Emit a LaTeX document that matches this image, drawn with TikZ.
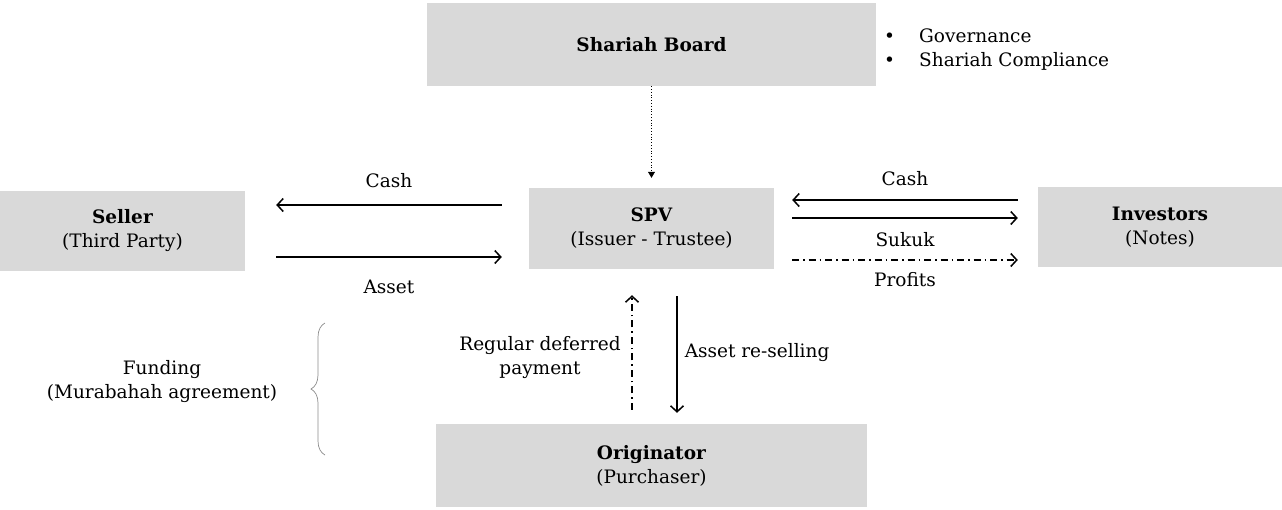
\documentclass[tikz,border=0pt]{standalone}
\usepackage{fontspec}
\setmainfont{DejaVu Serif}
\usetikzlibrary{arrows.meta,decorations.pathreplacing}
\definecolor{boxgray}{HTML}{D9D9D9}
\definecolor{bracegray}{HTML}{8C8C8C}
\tikzset{
  every node/.style={font=\fontsize{18.5}{24}\selectfont, text=black},
  entity/.style={fill=boxgray, draw=none, inner sep=0pt, align=center},
  arr/.style={line width=1.5pt, -{Straight Barb[length=6pt,width=13pt]}},
  dasharr/.style={line width=1.5pt, dash pattern=on 7pt off 4pt on 1.5pt off 4pt, -{Straight Barb[length=6pt,width=13pt]}},
  dotarr/.style={line width=0.8pt, dotted, -{Triangle[length=6pt,width=7pt]}},
  lbl/.style={inner sep=0pt, align=center}
}
\begin{document}
\begin{tikzpicture}[x=1pt,y=-1pt]
\useasboundingbox (0,0) rectangle (1282,509);

% boxes
\node[entity, minimum width=449pt, minimum height=83pt] (board) at (651.5,44.5) {\textbf{Shariah Board}};
\node[entity, minimum width=245pt, minimum height=80pt] (seller) at (122.5,231) {\textbf{Seller}\\(Third Party)};
\node[entity, minimum width=245pt, minimum height=81pt] (spv) at (651.5,228.5) {\textbf{SPV}\\(Issuer - Trustee)};
\node[entity, minimum width=244pt, minimum height=80pt] (inv) at (1160,227) {\textbf{Investors}\\(Notes)};
\node[entity, minimum width=431pt, minimum height=83pt] (orig) at (651.5,465.5) {\textbf{Originator}\\(Purchaser)};

% bullets
\node[lbl, anchor=west, align=left] (bul) at (884,50) {\makebox[35pt][l]{\textbullet}Governance\\\makebox[35pt][l]{\textbullet}Shariah Compliance};

% board to SPV
\draw[dotarr, shorten >=10pt] (board.south) -- (spv.north);

% seller <-> SPV
\draw[arr] ([xshift=-27pt,yshift=23.5pt]spv.west) -- ([xshift=31pt,yshift=26pt]seller.east)
  node[lbl, midway, yshift=24pt] {Cash};
\draw[arr] ([xshift=31pt,yshift=-26pt]seller.east) -- ([xshift=-27pt,yshift=-28.5pt]spv.west)
  node[lbl, midway, yshift=-30pt] {Asset};

% SPV <-> investors
\draw[arr] ([xshift=-20pt,yshift=27pt]inv.west) -- ([xshift=18pt,yshift=28.5pt]spv.east)
  node[lbl, midway, yshift=21pt] {Cash};
\draw[arr] ([xshift=18pt,yshift=10.5pt]spv.east) -- ([xshift=-20pt,yshift=9pt]inv.west)
  node[lbl, midway, yshift=-22pt] {Sukuk};
\draw[dasharr] ([xshift=18pt,yshift=-31.5pt]spv.east) -- ([xshift=-20pt,yshift=-33pt]inv.west)
  node[lbl, midway, yshift=-20pt] {Profits};

% originator <-> SPV
\draw[dasharr] ([xshift=-19.5pt,yshift=14pt]orig.north) -- ([xshift=-19.5pt,yshift=-26pt]spv.south)
  node[lbl, midway, xshift=-92pt, yshift=-5.5pt] {Regular deferred\\payment};
\draw[arr] ([xshift=25.5pt,yshift=-27pt]spv.south) -- ([xshift=25.5pt,yshift=11pt]orig.north)
  node[lbl, midway, anchor=west, xshift=7pt, yshift=2pt] {Asset re-selling};

% brace and funding
\draw[bracegray, line width=0.7pt, decorate, decoration={brace, amplitude=14pt}] (325,455) -- (325,323);
\node[lbl] (fund) at (162,382) {Funding\\(Murabahah agreement)};
\end{tikzpicture}
\end{document}
